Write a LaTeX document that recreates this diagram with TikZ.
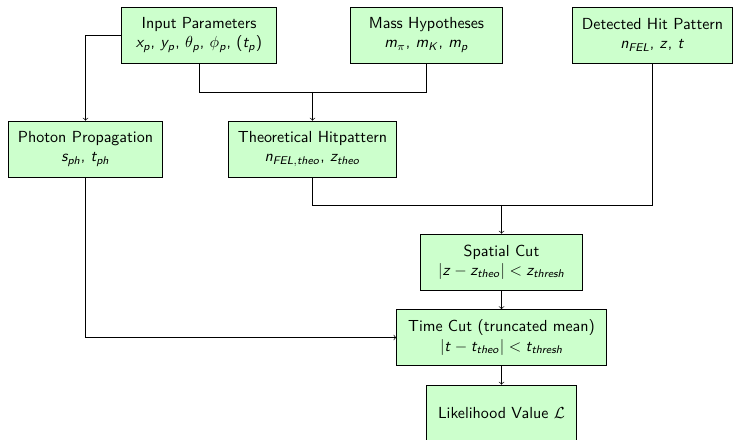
\documentclass[tikz,border=0pt]{standalone}
\usetikzlibrary{calc}

% Sans serif slanted letters in math
\DeclareSymbolFont{sfletters}{OT1}{cmss}{m}{sl}
\SetSymbolFont{operators}{normal}{OT1}{cmss}{m}{n}
\makeatletter
\@tfor\ch:=abcdefghijklmnopqrstuvwxyzABCDEFGHIJKLMNOPQRSTUVWXYZ\do{%
    \edef\x{\noexpand\DeclareMathSymbol{\ch}{\noexpand\mathalpha}{sfletters}{`\ch}}\x}
\makeatother

\definecolor{boxColour}{HTML}{CCFFCC}

\tikzset{
    stage/.style={draw, fill=boxColour, minimum height=35pt, align=center, font=\sffamily},
}

\begin{document}
\begin{tikzpicture}[x=0.625pt, y=-0.625pt]
    % Fix page size
    \useasboundingbox (0,0) rectangle (734,440);

    % Inputs
    \node[stage, minimum width=97pt] (input) at (199,35) {Input Parameters\\ $x_p$, $y_p$, $\theta_p$, $\phi_p$, ($t_p$)};
    \node[stage, minimum width=95pt] (mass) at (426.5,35) {Mass Hypotheses\\ $m_\pi$, $m_K$, $m_p$};
    \node[stage, minimum width=100pt] (detected) at (652.5,35) {Detected Hit Pattern\\ $n_{FEL}$, $z$, $t$};

    % Intermediate steps
    \node[stage, minimum width=96.5pt] (photon) at (85.5,149) {Photon Propagation\\ $s_{ph}$, $t_{ph}$};
    \node[stage, minimum width=105pt] (theo) at (312.5,149) {Theoretical Hitpattern\\ $n_{FEL,theo}$, $z_{theo}$};

    % Cuts and result
    \node[stage, minimum width=101.5pt] (spatial) at (501.5,262) {Spatial Cut\\ $|z-z_{theo}| < z_{thresh}$};
    \node[stage, minimum width=131pt] (time) at (501.5,337.5) {Time Cut (truncated mean)\\ $|t-t_{theo}| < t_{thresh}$};
    \node[stage, minimum width=94pt] (likeli) at (501.5,413) {Likelihood Value $\mathcal{L}$};

    % Junction points
    \coordinate (join1) at (312.5,92);
    \coordinate (join2) at (501.5,205);

    % Connections
    \draw[->] (input.west) -| (photon.north);
    \draw (input.south) |- (join1);
    \draw (mass.south) |- (join1);
    \draw[->] (join1) -- (theo.north);
    \draw (theo.south) |- (join2);
    \draw (detected.south) |- (join2);
    \draw[->] (join2) -- (spatial.north);
    \draw[->] (spatial) -- (time);
    \draw[->] (photon.south) |- (time.west);
    \draw[->] (time) -- (likeli);

\end{tikzpicture}
\end{document}
